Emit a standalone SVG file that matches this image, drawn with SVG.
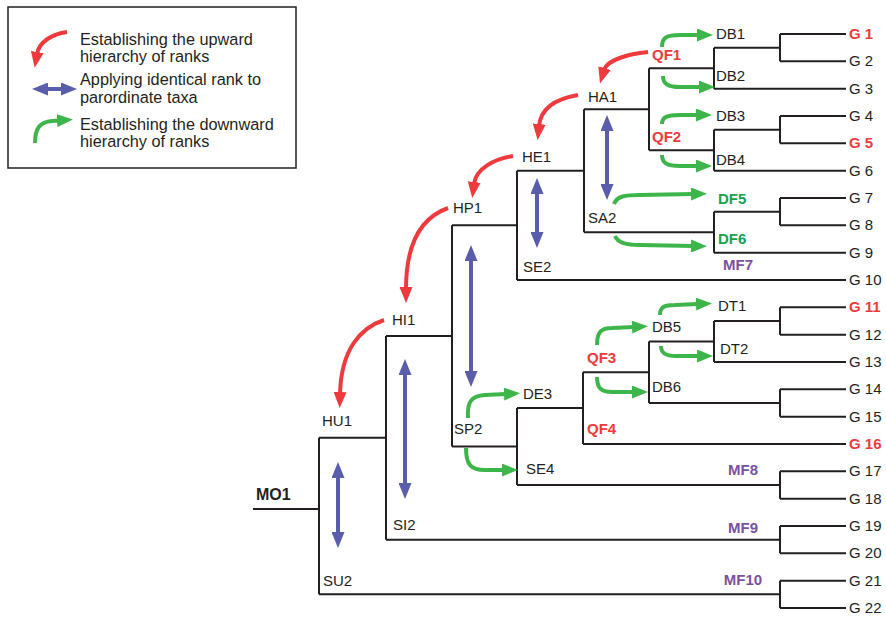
<svg xmlns="http://www.w3.org/2000/svg" width="886" height="617" viewBox="0 0 886 617">
<defs>
<style>
text{font-family:"Liberation Sans",Arial,sans-serif;font-size:15px;fill:#231f20}
.lg{font-size:16.3px}
.b{font-weight:bold}
.red{fill:#ee3a3d}
.grn{fill:#17a14b}
.pur{fill:#7b51a1}
.tree{fill:none;stroke:#231f20;stroke-width:2}
.ar{fill:none;stroke-width:4}
.r{stroke:#ee3a3d;marker-end:url(#mr)}
.g{stroke:#3db54a;marker-end:url(#mg)}
.bl{stroke:#5a5eaa;marker-start:url(#mb);marker-end:url(#mb)}
</style>
<marker id="mr" markerUnits="userSpaceOnUse" viewBox="0 0 16 13" markerWidth="16" markerHeight="13" refX="2" refY="6.5" orient="auto"><path d="M0,0 L16,6.5 L0,13 z" fill="#ee3a3d"/></marker>
<marker id="mg" markerUnits="userSpaceOnUse" viewBox="0 0 16 13" markerWidth="16" markerHeight="13" refX="2" refY="6.5" orient="auto"><path d="M0,0 L16,6.5 L0,13 z" fill="#3db54a"/></marker>
<marker id="mb" markerUnits="userSpaceOnUse" viewBox="0 0 16 13" markerWidth="16" markerHeight="13" refX="2" refY="6.5" orient="auto-start-reverse"><path d="M0,0 L16,6.5 L0,13 z" fill="#5a5eaa"/></marker>
</defs>
<rect width="886" height="617" fill="#fff"/>

<g id="legend">
<rect x="8" y="7" width="288" height="161" fill="#fff" stroke="#231f20" stroke-width="1.5"/>
<path class="ar r" d="M67,32 C52,34 39,42 37,54"/>
<path class="ar bl" d="M46,89 L63,89"/>
<path class="ar g" d="M35,143 C35,128 40,122 52,121 L59,120.5"/>
<text class="lg" x="80" y="45">Establishing the upward</text>
<text class="lg" x="80" y="62">hierarchy of ranks</text>
<text class="lg" x="80" y="85">Applying identical rank to</text>
<text class="lg" x="80" y="103">parordinate taxa</text>
<text class="lg" x="80" y="130">Establishing the downward</text>
<text class="lg" x="80" y="147">hierarchy of ranks</text>
</g>

<g id="connectors" class="tree">
<path d="M253,509 H319 M319,437.8 V594.3 M319,437.8 H386 M319,594.3 H780"/>
<path d="M386,336 V539.7 M386,336 H452 M386,539.7 H780"/>
<path d="M452,225.3 V446.6 M452,225.3 H517 M452,446.6 H517"/>
<path d="M517,170.7 V280 M517,170.7 H584 M517,280 H846"/>
<path d="M584,109.2 V232.2 M584,109.2 H649 M584,232.2 H714"/>
<path d="M649,68.2 V150.2 M649,68.2 H714 M649,150.2 H714"/>
<path d="M714,47.7 V88.7 M714,47.7 H780 M714,88.7 H846"/>
<path d="M780,34 V61.3 M780,34 H846 M780,61.3 H846"/>
<path d="M714,129.7 V170.7 M714,129.7 H780 M714,170.7 H846"/>
<path d="M780,116 V143.3 M780,116 H846 M780,143.3 H846"/>
<path d="M714,211.7 V252.7 M714,211.7 H780 M714,252.7 H846"/>
<path d="M780,198 V225.3 M780,198 H846 M780,225.3 H846"/>
<path d="M517,408.1 V485 M517,408.1 H583 M517,485 H780"/>
<path d="M583,372.2 V444 M583,372.2 H649 M583,444 H846"/>
<path d="M649,341.5 V403 M649,341.5 H714 M649,403 H780"/>
<path d="M714,321 V362 M714,321 H780 M714,362 H846"/>
<path d="M780,307.3 V334.7 M780,307.3 H846 M780,334.7 H846"/>
<path d="M780,389.3 V416.7 M780,389.3 H846 M780,416.7 H846"/>
<path d="M780,471.3 V498.7 M780,471.3 H846 M780,498.7 H846"/>
<path d="M780,526 V553.3 M780,526 H846 M780,553.3 H846"/>
<path d="M780,580.7 V608 M780,580.7 H846 M780,608 H846"/>
</g>

<g id="arrows">
<path class="ar r" d="M648,52 C628,54 607,60 604,70"/>
<path class="ar r" d="M578,95 C560,98 541,106 539,126"/>
<path class="ar r" d="M513,156 C495,159 476,168 474,184"/>
<path class="ar r" d="M448,208 C420,218 406,245 406,289"/>
<path class="ar r" d="M384,320 C360,328 341,350 340,394"/>
<path class="ar bl" d="M607,129 L607,186"/>
<path class="ar bl" d="M537,192 L537,234"/>
<path class="ar bl" d="M471,259 L471,373"/>
<path class="ar bl" d="M405,373 L405,485"/>
<path class="ar bl" d="M338,476 L338,534"/>
<path class="ar g" d="M662,47 C662,37 667,35 680,35 L699,35"/>
<path class="ar g" d="M663,76 C663,84 668,87 680,87 L701,87"/>
<path class="ar g" d="M662,124 C662,117 667,115 680,115 L698,115"/>
<path class="ar g" d="M662,155 C662,163 667,166 680,166 L698,166"/>
<path class="ar g" d="M614,204 C617,196 625,195 640,195 L693,194"/>
<path class="ar g" d="M615,236 C618,243 626,245 640,245 L693,246"/>
<path class="ar g" d="M468,418 C467,402 471,396 485,395 L506,394"/>
<path class="ar g" d="M466,448 C466,465 471,470 485,470 L504,470"/>
<path class="ar g" d="M597,345 C597,332 601,328 612,328 L634,327"/>
<path class="ar g" d="M597,377 C597,388 601,392 612,392 L634,392"/>
<path class="ar g" d="M660,315 C660,307 664,305 675,305 L698,304"/>
<path class="ar g" d="M661,346 C661,353 665,356 676,356 L699,356"/>
</g>

<g id="MO1"><text class="b" x="256" y="500" style="font-size:16px">MO1</text></g>
<g id="HU1"><text x="322" y="426">HU1</text></g>
<g id="SU2"><text x="323" y="586">SU2</text></g>
<g id="HI1"><text x="392" y="325">HI1</text></g>
<g id="SI2"><text x="393" y="530">SI2</text></g>
<g id="HP1"><text x="453" y="213">HP1</text></g>
<g id="SP2"><text x="454" y="434">SP2</text></g>
<g id="HE1"><text x="522" y="162">HE1</text></g>
<g id="SE2"><text x="523" y="272">SE2</text></g>
<g id="DE3"><text x="523" y="399">DE3</text></g>
<g id="SE4"><text x="526" y="474">SE4</text></g>
<g id="HA1"><text x="588" y="102">HA1</text></g>
<g id="SA2"><text x="588" y="223">SA2</text></g>
<g id="QF1"><text class="b red" x="652" y="60">QF1</text></g>
<g id="QF2"><text class="b red" x="652" y="142">QF2</text></g>
<g id="QF3"><text class="b red" x="587" y="363">QF3</text></g>
<g id="QF4"><text class="b red" x="587" y="434">QF4</text></g>
<g id="DB1"><text x="716" y="39">DB1</text></g>
<g id="DB2"><text x="716" y="81">DB2</text></g>
<g id="DB3"><text x="716" y="121">DB3</text></g>
<g id="DB4"><text x="716" y="165">DB4</text></g>
<g id="DB5"><text x="652" y="332">DB5</text></g>
<g id="DB6"><text x="652" y="392">DB6</text></g>
<g id="DT1"><text x="718" y="311">DT1</text></g>
<g id="DT2"><text x="720" y="354">DT2</text></g>
<g id="DF5"><text class="b grn" x="718" y="204">DF5</text></g>
<g id="DF6"><text class="b grn" x="718" y="244">DF6</text></g>
<g id="MF7"><text class="b pur" x="738" y="270" text-anchor="middle">MF7</text></g>
<g id="MF8"><text class="b pur" x="743" y="475" text-anchor="middle">MF8</text></g>
<g id="MF9"><text class="b pur" x="743" y="533" text-anchor="middle">MF9</text></g>
<g id="MF10"><text class="b pur" x="743" y="585" text-anchor="middle">MF10</text></g>

<g id="leaves">
<g id="G1"><text class="b red" x="849" y="39">G 1</text></g>
<g id="G2"><text x="849" y="66.3">G 2</text></g>
<g id="G3"><text x="849" y="93.7">G 3</text></g>
<g id="G4"><text x="849" y="121">G 4</text></g>
<g id="G5"><text class="b red" x="849" y="148.3">G 5</text></g>
<g id="G6"><text x="849" y="175.7">G 6</text></g>
<g id="G7"><text x="849" y="203">G 7</text></g>
<g id="G8"><text x="849" y="230.3">G 8</text></g>
<g id="G9"><text x="849" y="257.7">G 9</text></g>
<g id="G10"><text x="849" y="285">G 10</text></g>
<g id="G11"><text class="b red" x="849" y="312.3">G 11</text></g>
<g id="G12"><text x="849" y="339.7">G 12</text></g>
<g id="G13"><text x="849" y="367">G 13</text></g>
<g id="G14"><text x="849" y="394.3">G 14</text></g>
<g id="G15"><text x="849" y="421.7">G 15</text></g>
<g id="G16"><text class="b red" x="849" y="449">G 16</text></g>
<g id="G17"><text x="849" y="476.3">G 17</text></g>
<g id="G18"><text x="849" y="503.7">G 18</text></g>
<g id="G19"><text x="849" y="531">G 19</text></g>
<g id="G20"><text x="849" y="558.3">G 20</text></g>
<g id="G21"><text x="849" y="585.7">G 21</text></g>
<g id="G22"><text x="849" y="613">G 22</text></g>
</g>
</svg>
